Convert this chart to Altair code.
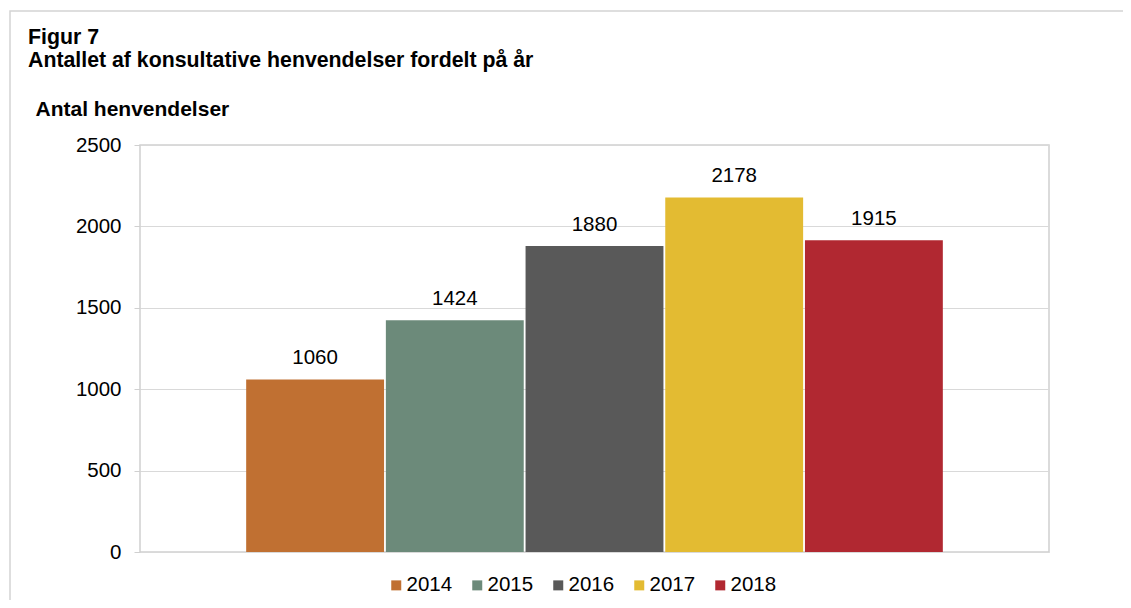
import altair as alt
import pandas as pd

years = ["2014", "2015", "2016", "2017", "2018"]
values = [1060, 1424, 1880, 2178, 1915]
colors = ["#C07032", "#6C8A7A", "#595959", "#E3BB32", "#B12831"]

df = pd.DataFrame({"year": years, "value": values})
FONT = "Liberation Sans"
FS = 20.5

base = alt.Chart(df)
xscale = alt.Scale(paddingInner=0.013, paddingOuter=0.76)
yscale = alt.Scale(domain=[0, 2500], nice=False)

bars = base.mark_bar().encode(
    x=alt.X("year:N", axis=None, scale=xscale),
    y=alt.Y("value:Q", scale=yscale,
            axis=alt.Axis(values=[0, 500, 1000, 1500, 2000, 2500], format="d",
                          title="Antal henvendelser", titleAngle=0,
                          titleAlign="left", titleBaseline="alphabetic",
                          titleX=-105, titleY=-30, titleFont=FONT,
                          titleFontSize=21, titleFontWeight="bold",
                          titleColor="#000000",
                          labelFont=FONT, labelFontSize=FS, labelColor="#000000",
                          labelPadding=13, tickSize=6, tickColor="#d0d0d0",
                          domain=False, gridColor="#d9d9d9")),
    color=alt.Color("year:N",
                    scale=alt.Scale(domain=years, range=colors),
                    legend=alt.Legend(orient="none", direction="horizontal",
                                      legendX=246, legendY=430, title=None,
                                      symbolType="square", symbolSize=100,
                                      symbolStrokeWidth=0, labelFont=FONT,
                                      labelFontSize=FS, labelColor="#000000",
                                      labelOffset=0, columnPadding=14,
                                      padding=0)),
)

labels = base.mark_text(baseline="alphabetic", dy=-15, font=FONT,
                        fontSize=FS, color="#000000").encode(
    x=alt.X("year:N", scale=xscale),
    y=alt.Y("value:Q", scale=yscale),
    text=alt.Text("value:Q"),
)

border = alt.Chart(pd.DataFrame({"a": [0]})).mark_rect(
    fill=None, stroke="#d4d4d4", strokeWidth=1.5
).encode(
    x=alt.value(-130), x2=alt.value(1200),
    y=alt.value(-134), y2=alt.value(700),
)

chart = alt.layer(border, bars, labels).properties(
    width=909, height=407,
    padding={"left": 132, "top": 137, "right": 74, "bottom": 48},
    autosize=alt.AutoSizeParams(type="none"),
    title=alt.Title(["Figur 7", "Antallet af konsultative henvendelser fordelt på år"],
                    anchor="start", frame="group", dx=-112, offset=-78,
                    baseline="alphabetic",
                    font=FONT, fontSize=21.3, fontWeight="bold",
                    lineHeight=23.4, color="#000000"),
).configure_view(stroke="#d0d0d0", strokeWidth=1.5)

chart.save("out.html", embed_options={"renderer": "svg", "actions": False})
